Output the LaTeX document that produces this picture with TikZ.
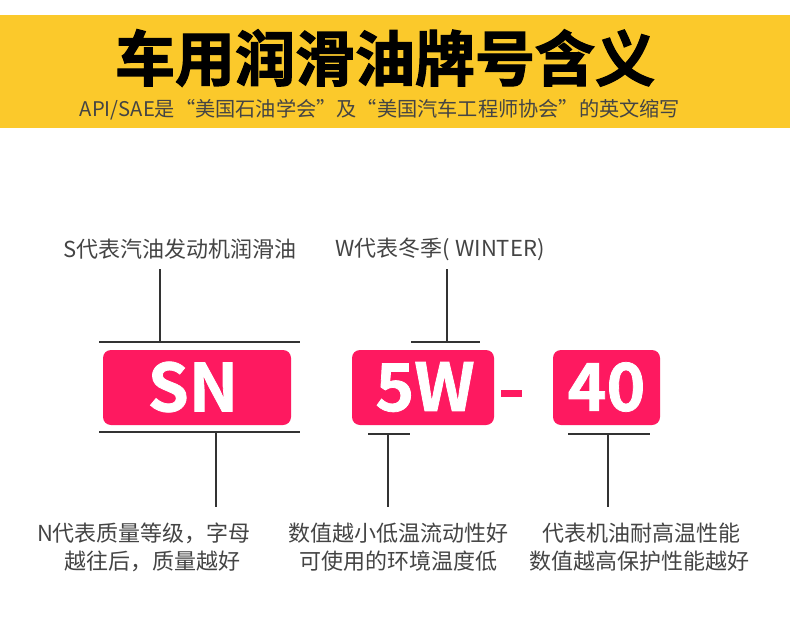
\documentclass[tikz,border=0pt]{standalone}
\usepackage{fontspec}
\setmainfont{Noto Sans CJK SC}
\newfontfamily\cjk{Noto Sans CJK SC}
\newfontfamily\cjkbold{Noto Sans CJK SC Bold}[FakeBold=2]
\newfontfamily\cjkbox{Noto Sans CJK SC Bold}[FakeBold=1.2]
\definecolor{bandyellow}{HTML}{FBC92B}
\definecolor{boxpink}{HTML}{FE1960}
\definecolor{labelgray}{HTML}{444444}
\definecolor{linegray}{HTML}{333333}
\tikzset{
  codebox/.style={fill=boxpink, rounded corners=8pt, draw=none},
  codetext/.style={text=white, font=\cjkbox\fontsize{66}{66}\selectfont, inner sep=0pt, anchor=center},
  label/.style={text=labelgray, font=\cjk\fontsize{22}{28}\selectfont, inner sep=0pt, align=center},
  conn/.style={draw=linegray, line width=1.4pt},
}
\begin{document}
\begin{tikzpicture}[x=1pt,y=-1pt]
\useasboundingbox (0,0) rectangle (790,621);
\fill[white] (0,0) rectangle (790,621);
% band
\fill[bandyellow] (0,15) rectangle (790,128);
\node[inner sep=0pt, font=\cjkbold\fontsize{60}{60}\selectfont, text=black] (title) at (385,58) {车用润滑油牌号含义};
\node[inner sep=0pt, font=\cjk\fontsize{20.2}{21}\selectfont, text=labelgray] (sub) at (380,110) {API/SAE是“美国石油学会”及“美国汽车工程师协会”的英文缩写};

% top labels
\node[label] (lS) at (180,249) {S代表汽油发动机润滑油};
\node[label] (lW) at (440,249) {W代表冬季( WINTER)};

% boxes
\path[codebox] (103,350) rectangle (291,425);
\path[codebox] (352,350) rectangle (494,425);
\path[codebox] (553,350) rectangle (660,425);
\node[codetext] (SN) at (193,387) {SN};
\node[codetext] (W5) at (425,387) {5W};
\node[codetext] (F40) at (606.5,387) {40};
\fill[boxpink] (501,390) rectangle (522,397);

% connector coordinates
\coordinate (sTop) at (160,269);
\coordinate (sTopJ) at (160,342);
\coordinate (sTopL) at (99,342);
\coordinate (sTopR) at (300,342);
\coordinate (sBotL) at (99,432);
\coordinate (sBotR) at (300,432);
\coordinate (sBotJ) at (216,432);
\coordinate (sBot) at (216,507);

\coordinate (wTop) at (447,269);
\coordinate (wTopJ) at (447,342);
\coordinate (wTopL) at (411,342);
\coordinate (wTopR) at (480,342);
\coordinate (wBotL) at (368,434);
\coordinate (wBotR) at (410,434);
\coordinate (wBotJ) at (388,434);
\coordinate (wBot) at (388,507);

\coordinate (fBotL) at (568,434);
\coordinate (fBotR) at (650,434);
\coordinate (fBotJ) at (608,434);
\coordinate (fBot) at (608,507);

\draw[conn] (sTop) -- (sTopJ);
\draw[conn] (sTopL) -- (sTopR);
\draw[conn] (sBotL) -- (sBotR);
\draw[conn] (sBotJ) -- (sBot);
\draw[conn] (wTop) -- (wTopJ);
\draw[conn] (wTopL) -- (wTopR);
\draw[conn] (wBotL) -- (wBotR);
\draw[conn] (wBotJ) -- (wBot);
\draw[conn] (fBotL) -- (fBotR);
\draw[conn] (fBotJ) -- (fBot);

% bottom labels
\node[label] (bN1) at (144,533) {N代表质量等级，字母};
\node[label] (bN2) at (152,561) {越往后，质量越好};
\node[label] (bW1) at (398,533) {数值越小低温流动性好};
\node[label] (bW2) at (398,561) {可使用的环境温度低};
\node[label] (bF1) at (641,533) {代表机油耐高温性能};
\node[label] (bF2) at (639,561) {数值越高保护性能越好};
\end{tikzpicture}
\end{document}
